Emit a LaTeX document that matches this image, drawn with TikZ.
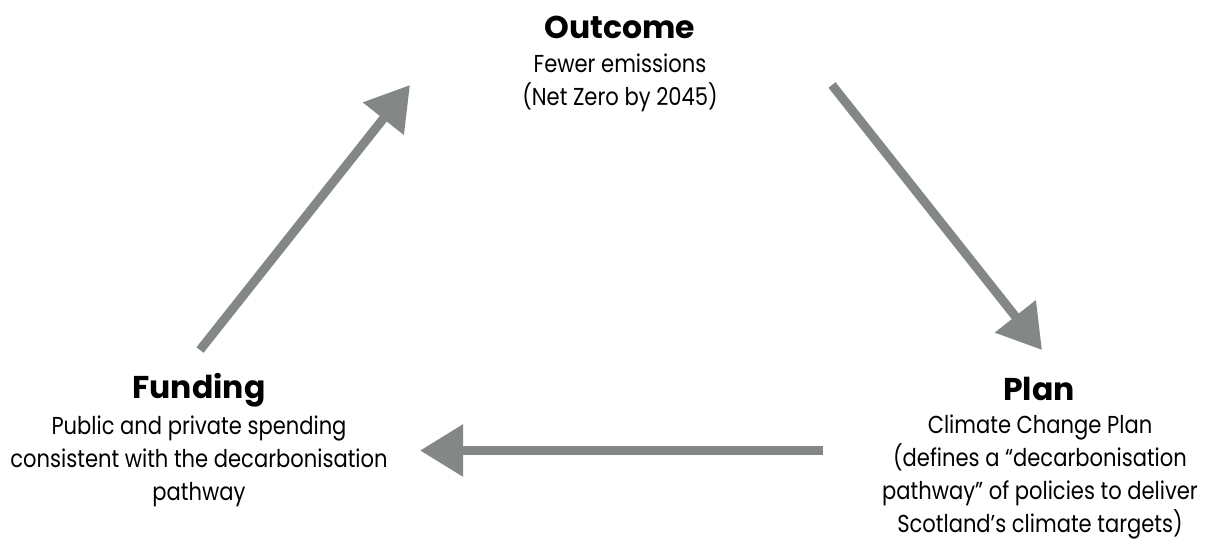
\documentclass[tikz,border=0pt]{standalone}
\usepackage{fontspec}
\setmainfont{Poppins}
\usetikzlibrary{arrows.meta}
\definecolor{arrowgray}{RGB}{131,136,135}
\newfontfamily\titlefont{Poppins}
\newfontfamily\bodyfont{Poppins}[FakeStretch=0.86]
\tikzset{
  flow/.style={draw=arrowgray, line width=9pt, -{Triangle[length=43pt,width=50pt]}},
  blocktitle/.style={anchor=base, inner sep=0pt, font=\titlefont\bfseries\fontsize{31.5}{33}\selectfont},
  blockbody/.style={anchor=north, inner sep=0pt, align=center, font=\bodyfont\fontsize{24.5}{33}\selectfont},
}
\begin{document}
\begin{tikzpicture}[x=1pt,y=-1pt]
\path[use as bounding box, fill=white] (0,0) rectangle (1212,539);
% titles
\node[blocktitle] (outT) at (620,38) {Outcome};
\node[blocktitle] (funT) at (199,398) {Funding};
\node[blocktitle] (plnT) at (1039,400) {Plan};
% bodies
\node[blockbody] (outB) at (620,54) {Fewer emissions\\(Net Zero by 2045)};
\node[blockbody] (funB) at (199,416) {Public and private spending\\consistent with the decarbonisation\\pathway};
\node[blockbody] (plnB) at (1040,415) {Climate Change Plan\\(defines a “decarbonisation\\pathway” of policies to deliver\\Scotland’s climate targets)};
% arrow ends
\coordinate (fs) at (200,350);
\coordinate (oe) at (410,85);
\coordinate (os) at (832,85);
\coordinate (pe) at (1042,350);
\coordinate (ps) at (823,450.5);
\coordinate (fe) at (420,450.5);
\draw[flow] (fs) -- (oe);
\draw[flow] (os) -- (pe);
\draw[flow] (ps) -- (fe);
\end{tikzpicture}
\end{document}
